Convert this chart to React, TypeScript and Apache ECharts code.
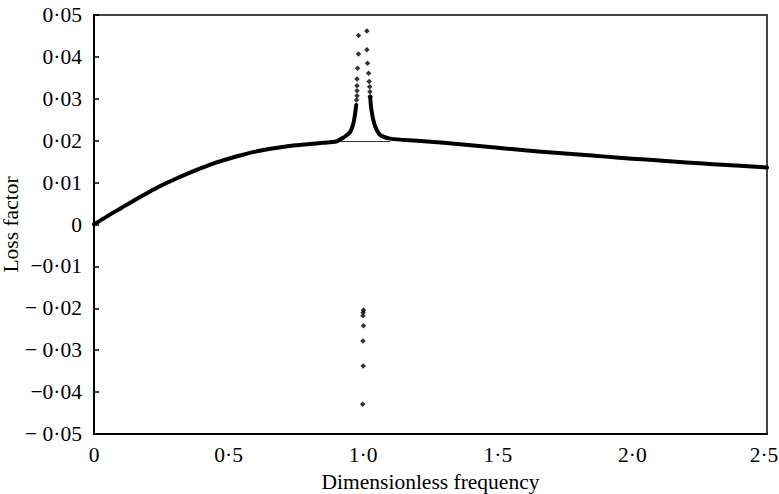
import React, { useEffect, useRef } from "react";
import * as echarts from "echarts";

// Tick labels
const xTickLabels = ["0", "0·5", "1·0", "1·5", "2·0", "2·5"];
const yTickLabels = ["− 0·05", "−0·04", "− 0·03", "− 0·02", "−0·01", "0", "0·01", "0·02", "0·03", "0·04", "0·05"];

// Smooth loss-factor curve, left part + left branch of the resonance
const leftX = [0, 0.05, 0.1, 0.15, 0.2, 0.25, 0.3, 0.35, 0.4, 0.45, 0.5, 0.55, 0.6, 0.65, 0.7, 0.75, 0.8, 0.85, 0.9, 0.914, 0.933, 0.952, 0.964, 0.97, 0.974];
const leftY = [0, 0.0020, 0.0039, 0.0058, 0.0076, 0.0093, 0.0108, 0.0122, 0.0135, 0.0147, 0.0157, 0.0166, 0.0174, 0.0180, 0.0185, 0.0189, 0.0192, 0.0195, 0.0198, 0.0203, 0.0210, 0.0221, 0.0242, 0.0265, 0.0285];

// Right branch of the resonance + right part of the curve
const rightX = [1.026, 1.029, 1.035, 1.045, 1.063, 1.1, 1.2, 1.3, 1.4, 1.5, 1.6, 1.7, 1.8, 1.9, 2.0, 2.1, 2.2, 2.3, 2.4, 2.5];
const rightY = [0.0305, 0.0281, 0.0257, 0.0233, 0.0214, 0.0205, 0.0200, 0.0195, 0.0189, 0.0183, 0.0177, 0.0172, 0.0167, 0.0162, 0.0157, 0.0153, 0.0148, 0.0144, 0.0140, 0.0136];

// Thin baseline under the resonance
const baseX = [0.88, 0.95, 1.0, 1.05, 1.1];
const baseY = [0.0198, 0.0198, 0.0198, 0.0198, 0.0198];

// Isolated points near resonance
const dotX = [0.9826, 0.9826, 0.979, 0.977, 0.977, 0.977, 0.977, 0.975, 1.0136, 1.0136, 1.016, 1.02, 1.022, 1.024, 1.025, 1.026, 1.001, 1.0, 0.999, 1.001, 0.999, 1.0, 0.998];
const dotY = [0.0451, 0.0407, 0.0373, 0.0347, 0.0331, 0.0319, 0.0307, 0.0297, 0.0462, 0.0417, 0.0385, 0.0361, 0.0341, 0.0329, 0.0317, 0.0305, -0.0204, -0.0210, -0.0218, -0.02415, -0.0278, -0.0338, -0.0429];

const zip = (xs: number[], ys: number[]) => xs.map((x, i) => [x, ys[i]]);

const FONT = "Liberation Serif";

export default function App() {
  const ref = useRef<HTMLDivElement>(null);
  useEffect(() => {
    if (!ref.current) return;
    const chart = echarts.init(ref.current, undefined, { renderer: "svg" });
    const labelStyle = { fontFamily: FONT, fontSize: 21.5, color: "#000" };
    chart.setOption({
      animation: false,
      backgroundColor: "#fff",
      grid: {
        left: 94,
        right: 12,
        top: 15,
        bottom: 60,
        containLabel: false,
        outerBoundsMode: "none",
        show: true,
        borderColor: "#444",
        borderWidth: 2,
      },
      xAxis: {
        type: "value",
        min: 0,
        max: 2.5,
        interval: 0.5,
        name: "Dimensionless frequency",
        nameLocation: "middle",
        nameGap: 37,
        nameMoveOverlap: false,
        nameTextStyle: labelStyle,
        axisLine: { show: true, onZero: false, lineStyle: { color: "#000", width: 2 } },
        axisTick: { show: false },
        splitLine: { show: false },
        axisLabel: {
          ...labelStyle,
          margin: 10,
          formatter: (v: number) => {
            const i = Math.round(v / 0.5);
            const t = xTickLabels[i] ?? "";
            return i === xTickLabels.length - 1 ? `{last|${t}}` : t;
          },
          rich: {
            last: { ...labelStyle, padding: [0, 6, 0, 0] },
          },
        },
      },
      yAxis: {
        type: "value",
        min: -0.05,
        max: 0.05,
        interval: 0.01,
        name: "Loss factor",
        nameLocation: "middle",
        nameGap: 72,
        nameMoveOverlap: false,
        nameTextStyle: labelStyle,
        axisLine: { show: true, onZero: false, lineStyle: { color: "#000", width: 2 } },
        axisTick: { show: true, inside: true, length: 5, lineStyle: { color: "#000", width: 1.5 } },
        splitLine: { show: false },
        axisLabel: {
          ...labelStyle,
          margin: 12,
          formatter: (v: number) => yTickLabels[Math.round((v + 0.05) / 0.01)] ?? "",
        },
      },
      series: [
        {
          type: "line",
          data: zip(baseX, baseY),
          showSymbol: false,
          lineStyle: { color: "#333", width: 1 },
        },
        {
          type: "line",
          data: zip(leftX, leftY),
          showSymbol: false,
          smooth: 0.3,
          lineStyle: { color: "#000", width: 4, join: "round", cap: "round" },
        },
        {
          type: "line",
          data: zip(rightX, rightY),
          showSymbol: false,
          smooth: 0.3,
          lineStyle: { color: "#000", width: 4, join: "round", cap: "round" },
        },
        {
          type: "scatter",
          data: zip(dotX, dotY),
          symbol: "diamond",
          symbolSize: 5.5,
          itemStyle: { color: "#000" },
        },
      ],
    });
    return () => chart.dispose();
  }, []);
  return (
    <div
      ref={ref}
      style={{ position: "fixed", left: 0, top: 0, width: 779, height: 494, background: "#fff" }}
    />
  );
}
